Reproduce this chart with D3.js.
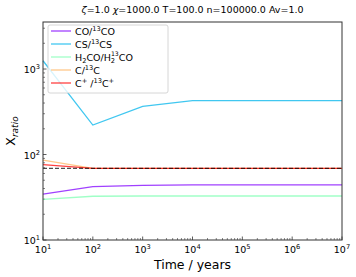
<!DOCTYPE html>
<html>
<head>
<meta charset="utf-8">
<script src="https://cdn.jsdelivr.net/npm/d3@7"></script>
<style>
  body { margin: 0; background: #fff; }
  text { font-family: "DejaVu Sans", sans-serif; fill: #000; }
</style>
</head>
<body>
<div id="plot"></div>
<script>
// Data
var times = [1e1, 1e2, 1e3, 1e4, 1e5, 1e6, 1e7];
var coRatio = [34.5, 42.0, 43.6, 44.2, 44.2, 44.2, 44.2];
var csRatio = [1250, 221, 365, 426, 426, 426, 426];
var h2coRatio = [29.9, 32.5, 32.7, 32.7, 32.7, 32.7, 32.7];
var cRatio = [86, 69, 69, 69, 69, 69, 69];
var cplusRatio = [76, 69, 69, 69, 69, 69, 69];
var elementalRatio = 69;
var xTicks = [1e1, 1e2, 1e3, 1e4, 1e5, 1e6, 1e7];
var yTicks = [1e1, 1e2, 1e3];
var seriesNames = [
    [["CO/", "n"], ["13", "sup"], ["CO", "n"]],
    [["CS/", "n"], ["13", "sup"], ["CS", "n"]],
    [["H", "n"], ["2", "sub"], ["CO/H", "n"], ["2", "sub"], ["13", "supover"], ["CO", "n"]],
    [["C/", "n"], ["13", "sup"], ["C", "n"]],
    [["C", "n"], ["+", "sup"], [" /", "n"], ["13", "sup"], ["C", "n"], ["+", "sup"]]
];
var seriesColors = ["#8000ff", "#00b4eb", "#80ffb4", "#ffb462", "#ff0000"];

var margin = {top: 22, right: 14, bottom: 37, left: 43};
var width = 356 - margin.left - margin.right;
var height = 277 - margin.top - margin.bottom;

function richText(sel, parts, size) {
    // Write text with sub/superscripts as tspans, tracking the baseline shift
    var offset = 0;
    parts.forEach(function(p) {
        var target = 0;
        if (p[1] === "sup") target = -size * 0.4;
        if (p[1] === "supover") target = -size * 0.45;
        if (p[1] === "sub") target = size * 0.3;
        var t = sel.append("tspan").text(p[0]).attr("dy", target - offset);
        offset = target;
        if (p[1] === "sup" || p[1] === "sub") t.style("font-size", (size * 0.7) + "px");
        if (p[1] === "supover") {
            // stacked over the previous subscript
            t.style("font-size", (size * 0.65) + "px").attr("dx", -size * 0.44);
        }
    });
}

var svg = d3.select("#plot")
    .append("svg")
        .attr("width", 356)
        .attr("height", 277)
    .append("g")
        .attr("transform", "translate(" + margin.left + "," + margin.top + ")");

var x = d3.scaleLog().domain([1e1, 1e7]).range([0, width]);
var y = d3.scaleLog().domain([1e1, Math.pow(10, 3.55)]).range([height, 0]);

// Minor ticks (inward)
var xMinor = [];
for (var e = 1; e < 7; e++) for (var m = 2; m < 10; m++) xMinor.push(m * Math.pow(10, e));
var yMinor = [];
for (var e2 = 1; e2 < 4; e2++) for (var m2 = 2; m2 < 10; m2++) {
    if (m2 * Math.pow(10, e2) < Math.pow(10, 3.55)) yMinor.push(m2 * Math.pow(10, e2));
}

svg.append("g").selectAll("line").data(xMinor).enter().append("line")
    .attr("x1", d => x(d)).attr("x2", d => x(d))
    .attr("y1", height).attr("y2", height - 2)
    .attr("stroke", "#333").attr("stroke-width", 0.6);
svg.append("g").selectAll("line").data(yMinor).enter().append("line")
    .attr("x1", 0).attr("x2", 2)
    .attr("y1", d => y(d)).attr("y2", d => y(d))
    .attr("stroke", "#333").attr("stroke-width", 0.6);

// Major ticks
svg.append("g").selectAll("line").data(xTicks).enter().append("line")
    .attr("x1", d => x(d)).attr("x2", d => x(d))
    .attr("y1", height).attr("y2", height - 3.5)
    .attr("stroke", "#333").attr("stroke-width", 0.8);
svg.append("g").selectAll("line").data(yTicks).enter().append("line")
    .attr("x1", 0).attr("x2", 3.5)
    .attr("y1", d => y(d)).attr("y2", d => y(d))
    .attr("stroke", "#333").attr("stroke-width", 0.8);

// Tick labels
svg.append("g").selectAll("text").data(xTicks).enter().append("text")
    .attr("x", d => x(d)).attr("y", height + 13)
    .attr("text-anchor", "middle")
    .style("font-size", "9.5px")
    .each(function(d) {
        richText(d3.select(this), [["10", "n"], [String(Math.round(Math.log10(d))), "sup"]], 9.5);
    });
svg.append("g").selectAll("text").data(yTicks).enter().append("text")
    .attr("x", -3).attr("y", d => y(d) + 4)
    .attr("text-anchor", "end")
    .style("font-size", "9.5px")
    .each(function(d) {
        richText(d3.select(this), [["10", "n"], [String(Math.round(Math.log10(d))), "sup"]], 9.5);
    });

// Series lines
var allSeries = [coRatio, csRatio, h2coRatio, cRatio, cplusRatio];
var line = d3.line().x((d, i) => x(times[i])).y(d => y(d));
allSeries.forEach(function(s, i) {
    svg.append("path")
        .datum(s)
        .attr("fill", "none")
        .attr("stroke", seriesColors[i])
        .attr("stroke-opacity", 0.75)
        .attr("stroke-width", 1.3)
        .attr("d", line);
});

// Elemental ratio reference line
svg.append("line")
    .attr("x1", x(1e1)).attr("x2", x(1e7))
    .attr("y1", y(elementalRatio)).attr("y2", y(elementalRatio))
    .attr("stroke", "#000").attr("stroke-opacity", 0.7)
    .attr("stroke-width", 1.2)
    .attr("stroke-dasharray", "4,2");

// Frame
svg.append("rect")
    .attr("width", width).attr("height", height)
    .attr("fill", "none").attr("stroke", "#333").attr("stroke-width", 1);

// Legend
var legend = svg.append("g").attr("transform", "translate(5,3)");
legend.append("rect")
    .attr("width", 120).attr("height", 68)
    .attr("rx", 2)
    .attr("fill", "#fff").attr("fill-opacity", 0.8)
    .attr("stroke", "#ccc").attr("stroke-width", 0.8);
seriesNames.forEach(function(name, i) {
    var ly = 6 + i * 13;
    legend.append("line")
        .attr("x1", 3).attr("x2", 23)
        .attr("y1", ly).attr("y2", ly)
        .attr("stroke", seriesColors[i]).attr("stroke-opacity", 0.75)
        .attr("stroke-width", 1.3);
    var t = legend.append("text")
        .attr("x", 27).attr("y", ly + 3.5)
        .style("font-size", "9.5px");
    richText(t, name, 9.5);
});

// Title
var title = svg.append("text")
    .attr("x", width / 2).attr("y", -9)
    .attr("text-anchor", "middle")
    .style("font-size", "9.5px");
title.append("tspan").style("font-style", "italic").text("\u03b6");
title.append("tspan").text("=1.0 ");
title.append("tspan").style("font-style", "italic").text("\u03c7");
title.append("tspan").text("=1000.0 T=100.0 n=100000.0  Av=1.0");

// Axis labels
svg.append("text")
    .attr("x", width / 2).attr("y", height + 29)
    .attr("text-anchor", "middle")
    .style("font-size", "12.5px")
    .text("Time / years");

var ylab = svg.append("text")
    .attr("transform", "rotate(-90)")
    .attr("x", -height / 2).attr("y", -28)
    .attr("text-anchor", "middle")
    .style("font-size", "12.5px");
ylab.append("tspan").text("X");
ylab.append("tspan").style("font-size", "9px").style("font-style", "italic").attr("dy", 3).text("ratio");
</script>
</body>
</html>
